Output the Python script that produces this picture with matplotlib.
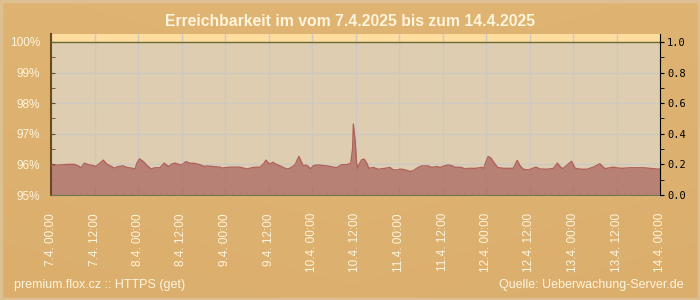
import numpy as np
import matplotlib
matplotlib.use('Agg')
import matplotlib.pyplot as plt
from matplotlib.patches import Rectangle

# hours since 7.4.2025 00:00 and availability in %
hours = [0, 2.0, 4.8, 6.4, 7.5, 8.3, 9.2, 10.3, 11.7, 12.3, 13.5, 14.4, 15.4, 16.7, 17.5,
         18.6, 19.9, 20.9, 22.2, 23.2, 23.7, 24.4, 25.5, 26.4, 27.6, 28.7, 30.1, 31.2,
         32.4, 33.3, 34.2, 35.6, 36.0, 37.2, 38.3, 39.7, 41.1, 42.3, 43.0, 43.9, 46.6,
         47.1, 49.4, 52.1, 54.0, 55.8, 57.7, 58.8, 59.3, 60.0, 60.6, 61.2, 61.8, 63.2,
         65.0, 65.9, 67.3, 67.9, 68.4, 69.0, 69.6, 70.3, 71.0, 71.6, 72.4, 73.7, 76.1,
         77.9, 78.8, 80.2, 81.6, 82.7, 83.2, 83.4, 83.9, 84.1, 84.3, 84.6, 85.0, 85.7,
         86.4, 87.1, 87.7, 88.9, 90.3, 92.1, 93.5, 94.4, 95.8, 96.3, 97.7, 99.0, 99.9,
         101.3, 102.3, 104.1, 105.0, 106.4, 107.3, 108.7, 109.6, 110.5, 111.4, 113.3,
         114.2, 115.1, 117.0, 118.8, 119.4, 120.0, 120.6, 121.4, 122.3, 123.2, 124.8,
         126.2, 127.5, 128.0, 128.6, 129.4, 130.3, 131.7, 132.6, 133.8, 134.9, 136.7,
         138.6, 139.7, 140.4, 141.2, 142.4, 143.6, 144.6, 146.4, 147.8, 149.6, 151.4,
         152.8, 155.1, 156.0, 157.4, 159.7, 163.4, 166.2, 168.0]
avail = [95.96, 95.98, 96.00, 96.00, 95.95, 95.89, 96.04, 95.99, 95.96, 95.93, 96.04, 96.14,
         96.01, 95.93, 95.88, 95.93, 95.95, 95.90, 95.88, 95.85, 96.04, 96.18, 96.09, 95.97,
         95.85, 95.89, 95.89, 96.04, 95.93, 96.01, 96.04, 95.99, 95.97, 96.09, 96.04, 96.03,
         95.99, 95.93, 95.95, 95.94, 95.91, 95.88, 95.91, 95.91, 95.85, 95.90, 95.91, 96.04,
         96.14, 96.04, 96.02, 96.07, 96.02, 95.95, 95.85, 95.87, 95.98, 96.13, 96.26, 96.09,
         95.95, 95.98, 95.93, 95.85, 95.96, 95.98, 95.95, 95.91, 95.89, 95.99, 95.99, 96.04,
         96.50, 97.32, 96.77, 96.42, 96.04, 95.87, 96.00, 96.15, 96.17, 96.04, 95.87, 95.90,
         95.84, 95.87, 95.90, 95.82, 95.82, 95.85, 95.82, 95.77, 95.79, 95.90, 95.95, 95.95,
         95.90, 95.93, 95.90, 95.96, 95.98, 95.96, 95.91, 95.90, 95.85, 95.87, 95.87, 95.90,
         95.87, 96.09, 96.26, 96.20, 96.04, 95.90, 95.87, 95.87, 95.87, 95.98, 96.13, 95.95,
         95.84, 95.82, 95.86, 95.91, 95.85, 95.84, 95.87, 96.04, 95.93, 95.86, 95.98, 96.10,
         95.87, 95.84, 95.84, 95.91, 96.02, 95.86, 95.91, 95.89, 95.87, 95.89, 95.89, 95.86,
         95.84]

tick_hours = list(range(0, 169, 12))
tick_labels = ['7.4. 00:00', '7.4. 12:00', '8.4. 00:00', '8.4. 12:00', '9.4. 00:00',
               '9.4. 12:00', '10.4. 00:00', '10.4. 12:00', '11.4. 00:00', '11.4. 12:00',
               '12.4. 00:00', '12.4. 12:00', '13.4. 00:00', '13.4. 12:00', '14.4. 00:00']
title = 'Erreichbarkeit im vom 7.4.2025 bis zum 14.4.2025'

plt.rcParams['font.family'] = ['Liberation Sans', 'DejaVu Sans']
cream = '#fff4dc'
ytop = 100.26

fig = plt.figure(figsize=(7, 3), dpi=100)
fig.patch.set_facecolor('#ddb273')

# background gradient
bg = fig.add_axes([0, 0, 1, 1], zorder=-5)
gx, gy = np.meshgrid(np.linspace(0, 1, 200), np.linspace(0, 1, 100))
bg.imshow(0.6 * gy + 0.4 * np.abs(gx - 0.5), cmap=matplotlib.colors.LinearSegmentedColormap.from_list(
    'bgc', ['#e0b574', '#dbae6c']), aspect='auto', extent=[0, 1, 0, 1])
bg.add_patch(Rectangle((0.002, 0.004), 0.996, 0.992, fill=False, ec='#dcc092', lw=2.5))
bg.axis('off')

ax = fig.add_axes([51 / 700, 1 - 195 / 300, 609 / 700, 161 / 300])
ax.set_facecolor('#decdb0')
ax.set_xlim(0, 168)
ax.set_ylim(95, ytop)
ax.set_axisbelow(True)
ax.axhspan(100, ytop, color='#fedd9e', zorder=0.3)
ax.axhline(100, color='#6f6a2e', lw=1, zorder=4)

ax.fill_between(hours, 95, avail, color='#b67b71', alpha=0.93, lw=0, zorder=2)
ax.plot(hours, avail, color='#b0625b', lw=1, zorder=3)

ax.set_xticks(tick_hours)
ax.set_xticks(range(0, 169, 2), minor=True)
ax.set_xticklabels(tick_labels, rotation=90, color=cream, fontsize=8.5)
ax.set_yticks([95, 96, 97, 98, 99, 100])
ax.set_yticks(np.arange(95, 100.1, 0.5), minor=True)
ax.set_yticklabels(['95%', '96%', '97%', '98%', '99%', '100%'], color=cream, fontsize=8.5)
ax.grid(True, which='major', color='#cdc8c2', lw=1)

ax.tick_params(axis='x', which='major', direction='in', length=5, color='#5d7a4e', pad=13)
ax.tick_params(axis='x', which='minor', direction='in', length=3, color='#5d7a4e')
ax.tick_params(axis='y', which='both', direction='in', length=3, color='#6b4a20', pad=8)
for s in ['top', 'right']:
    ax.spines[s].set_visible(False)
ax.spines['left'].set_color('#6b4a20')
ax.spines['left'].set_linewidth(1.5)
ax.spines['bottom'].set_color('#6d7a50')

ax2 = ax.twinx()
ax2.set_ylim(0, (ytop - 95) / 5)
ax2.set_yticks(np.arange(0, 1.01, 0.2))
ax2.set_yticks(np.arange(0, 1.01, 0.1), minor=True)
ax2.set_yticklabels(['0.0', '0.2', '0.4', '0.6', '0.8', '1.0'], family='DejaVu Sans Mono',
                    fontsize=7.5, color='black')
ax2.tick_params(axis='y', which='both', direction='out', length=3, color='black', pad=2)
for s in ['top', 'left', 'bottom']:
    ax2.spines[s].set_visible(False)
ax2.spines['right'].set_color('black')

fig.text(0.5, 1 - 21 / 300, title, ha='center', va='center', color=cream,
         fontsize=11.3, fontweight='bold')
fig.text(14 / 700, 1 - 285 / 300, 'premium.flox.cz :: HTTPS (get)', ha='left', va='center',
         color=cream, fontsize=9)
fig.text(684 / 700, 1 - 285 / 300, 'Quelle: Ueberwachung-Server.de', ha='right', va='center',
         color=cream, fontsize=9)

fig.savefig('out.png', dpi=100, facecolor=fig.get_facecolor())
